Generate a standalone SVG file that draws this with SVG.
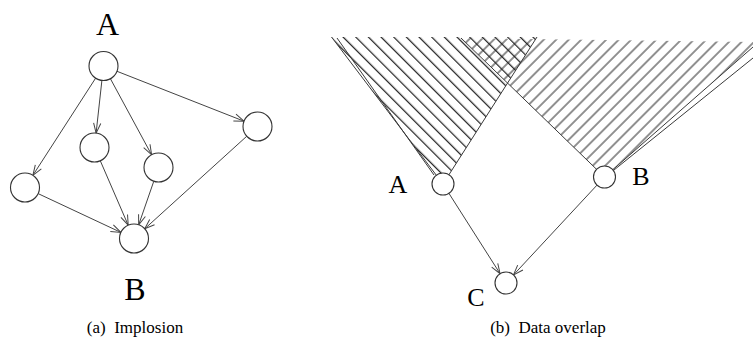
<svg xmlns="http://www.w3.org/2000/svg" width="753" height="340" viewBox="0 0 753 340">
  <style>
    .node { fill: #fff; stroke: #333; stroke-width: 1.1; }
    .edge { stroke: #444; stroke-width: 1; fill: none; marker-end: url(#arrow); }
    .bound { stroke: #3a3a3a; stroke-width: 1; fill: none; }
    .big { font-family: "Liberation Serif", "Times New Roman", serif; fill: #000; text-anchor: middle; }
    .cap { font-family: "Liberation Serif", "Times New Roman", serif; font-size: 17px; fill: #000; text-anchor: middle; }
  </style>
  <defs>
    <marker id="arrow" markerUnits="userSpaceOnUse" markerWidth="14" markerHeight="10" refX="0" refY="0" viewBox="-12 -5 14 10" orient="auto">
      <path d="M-10,-3.6 L0,0 L-10,3.6" fill="none" stroke="#444" stroke-width="1"/>
    </marker>
    <!-- "\" hatching for the region reached from A -->
    <pattern id="hatchA" patternUnits="userSpaceOnUse" width="40" height="8.95" patternTransform="rotate(45)">
      <line x1="-2" y1="7.34" x2="42" y2="7.34" stroke="#222" stroke-width="1.05"/>
    </pattern>
    <!-- "/" hatching for the region reached from B -->
    <pattern id="hatchB" patternUnits="userSpaceOnUse" width="40" height="8.84" patternTransform="rotate(-45)">
      <line x1="-2" y1="5.9" x2="42" y2="5.9" stroke="#222" stroke-width="1.05"/>
    </pattern>
  </defs>

  <!-- (a) Implosion -->
  <g id="connectors-a">
    <line class="edge" x1="95.6" y1="78.2" x2="32.9" y2="175.3"/>
    <line class="edge" x1="101.9" y1="80.4" x2="96.1" y2="133.1"/>
    <line class="edge" x1="110.4" y1="78.7" x2="151.6" y2="154.8"/>
    <line class="edge" x1="117.0" y1="71.3" x2="244.0" y2="121.2"/>
    <line class="edge" x1="38.1" y1="193.6" x2="120.9" y2="232.4"/>
    <line class="edge" x1="100.3" y1="160.8" x2="128.2" y2="225.2"/>
    <line class="edge" x1="153.8" y1="181.2" x2="138.7" y2="224.8"/>
    <line class="edge" x1="246.8" y1="136.2" x2="144.7" y2="228.8"/>
  </g>
  <g id="a-source">
    <circle class="node" cx="103.5" cy="66" r="14.5"/>
    <text class="big" x="107.5" y="35" font-size="32">A</text>
  </g>
  <g id="a-n1"><circle class="node" cx="25" cy="187.5" r="14.5"/></g>
  <g id="a-n2"><circle class="node" cx="94.5" cy="147.5" r="14.5"/></g>
  <g id="a-n3"><circle class="node" cx="158.5" cy="167.5" r="14.5"/></g>
  <g id="a-n4"><circle class="node" cx="257.5" cy="126.5" r="14.5"/></g>
  <g id="a-sink">
    <circle class="node" cx="134" cy="238.5" r="14.5"/>
    <text class="big" x="135" y="300" font-size="32">B</text>
  </g>
  <text class="cap" x="135" y="333" xml:space="preserve">(a)  Implosion</text>

  <!-- (b) Data overlap: hatched cones above A and B -->
  <g id="cones">
    <polygon points="443,184 331.5,37 537,37" fill="url(#hatchA)"/>
    <polygon points="604.5,177 461,38 753,42 753,47" fill="url(#hatchB)"/>
    <line class="bound" x1="443" y1="184" x2="331.5" y2="37"/>
    <line class="bound" x1="434" y1="175" x2="337" y2="38"/>
    <line class="bound" x1="443" y1="184" x2="537" y2="37"/>
    <line class="bound" x1="604.5" y1="177" x2="461" y2="38"/>
    <line class="bound" x1="604.5" y1="177" x2="753" y2="47"/>
    <line class="bound" x1="614" y1="170" x2="753" y2="58"/>
  </g>
  <g id="connectors-b">
    <line class="edge" x1="448.9" y1="193.3" x2="500.1" y2="273.7"/>
    <line class="edge" x1="597" y1="185.1" x2="513.5" y2="274.9"/>
  </g>
  <g id="b-A">
    <circle class="node" cx="443" cy="184" r="11"/>
    <text class="big" x="398" y="193" font-size="26">A</text>
  </g>
  <g id="b-B">
    <circle class="node" cx="604.5" cy="177" r="11"/>
    <text class="big" x="641" y="185" font-size="26">B</text>
  </g>
  <g id="b-C">
    <circle class="node" cx="506" cy="283" r="11"/>
    <text class="big" x="476" y="306" font-size="26">C</text>
  </g>
  <text class="cap" x="548" y="333" xml:space="preserve">(b)  Data overlap</text>
</svg>
